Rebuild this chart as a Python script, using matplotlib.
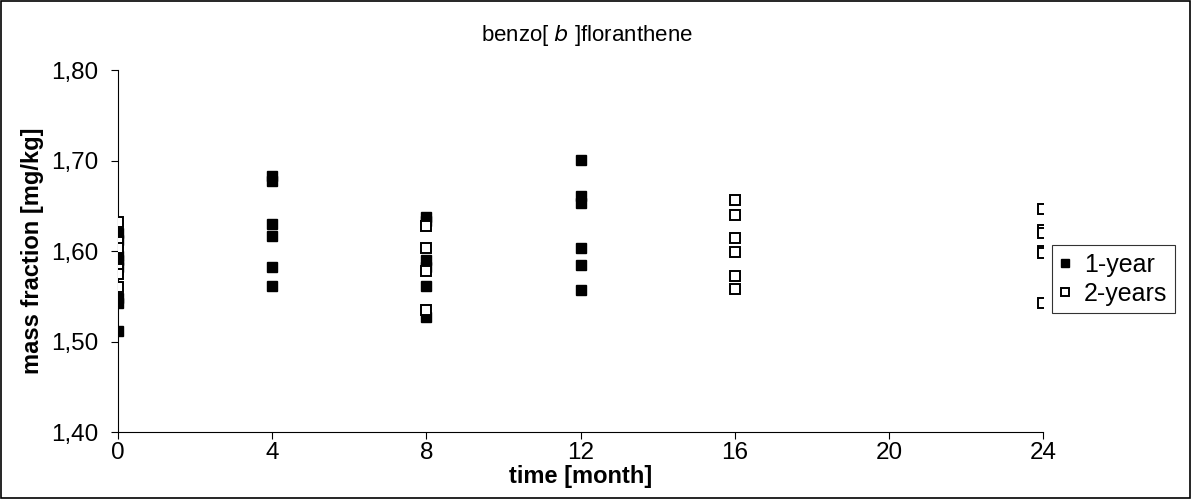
import numpy as np
import matplotlib.pyplot as plt
from matplotlib.ticker import FuncFormatter

plt.rcParams['font.family'] = ['Liberation Sans', 'DejaVu Sans']

# 1-year study (filled squares)
t1 = [0, 0, 0, 0, 0, 0, 0, 0,
      4, 4, 4, 4, 4, 4,
      8, 8, 8, 8, 8, 8,
      12, 12, 12, 12, 12, 12]
y1 = [1.512, 1.543, 1.548, 1.583, 1.590, 1.595, 1.612, 1.620,
      1.683, 1.678, 1.630, 1.617, 1.582, 1.562,
      1.638, 1.633, 1.590, 1.583, 1.562, 1.527,
      1.701, 1.661, 1.653, 1.603, 1.585, 1.557]

# 2-years study (open squares)
t2 = [0, 0, 0, 0, 0, 0,
      8, 8, 8, 8,
      16, 16, 16, 16, 16, 16,
      24, 24, 24, 24, 24, 24]
y2 = [1.632, 1.610, 1.604, 1.580, 1.575, 1.560,
      1.628, 1.603, 1.578, 1.535,
      1.656, 1.640, 1.614, 1.599, 1.573, 1.558,
      1.647, 1.623, 1.620, 1.600, 1.598, 1.543]

xticks = [0, 4, 8, 12, 16, 20, 24]
yticks = [1.40, 1.50, 1.60, 1.70, 1.80]

fig = plt.figure(figsize=(11.91, 4.99), dpi=100)
ax = fig.add_axes([0.0991, 0.134, 0.7767, 0.7255])

ax.plot(t1, y1, 's', color='black', markersize=7, label='1-year', zorder=3)
ax.plot(t2, y2, 's', markerfacecolor='white', markeredgecolor='black',
        markeredgewidth=1.4, markersize=7, label='2-years', zorder=3)

ax.set_xlim(0, 24)
ax.set_ylim(1.40, 1.80)
ax.set_xticks(xticks)
ax.set_yticks(yticks)
ax.yaxis.set_major_formatter(FuncFormatter(lambda v, p: ('%.2f' % v).replace('.', ',')))
ax.tick_params(labelsize=17.5, direction='out', length=5, width=0.8)
ax.tick_params(axis='x', pad=2)
ax.tick_params(axis='y', pad=9)
ax.spines['top'].set_visible(False)
ax.spines['right'].set_visible(False)
for s in ax.spines.values():
    s.set_linewidth(0.8)

ax.set_xlabel('time [month]', fontsize=17, fontweight='bold', labelpad=1)
ax.set_ylabel('mass fraction [mg/kg]', fontsize=17, fontweight='bold', labelpad=5)
fig.text(0.4925, 0.928, r'benzo[ $\it{b}$ ]floranthene', fontsize=16, ha='center', va='center')

leg = fig.legend(loc='center left', bbox_to_anchor=(0.883, 0.44), fontsize=18,
                 frameon=True, fancybox=False, edgecolor='black',
                 handlelength=0.5, handletextpad=0.5, borderpad=0.3,
                 labelspacing=0.2, markerscale=0.85, borderaxespad=0)
leg.get_frame().set_linewidth(0.8)

# outer border around the whole chart
fig.patches.append(plt.Rectangle((0.001, 0.002), 0.998, 0.996, transform=fig.transFigure,
                                 fill=False, edgecolor='black', linewidth=1.2))

fig.savefig('out.png', dpi=100)
